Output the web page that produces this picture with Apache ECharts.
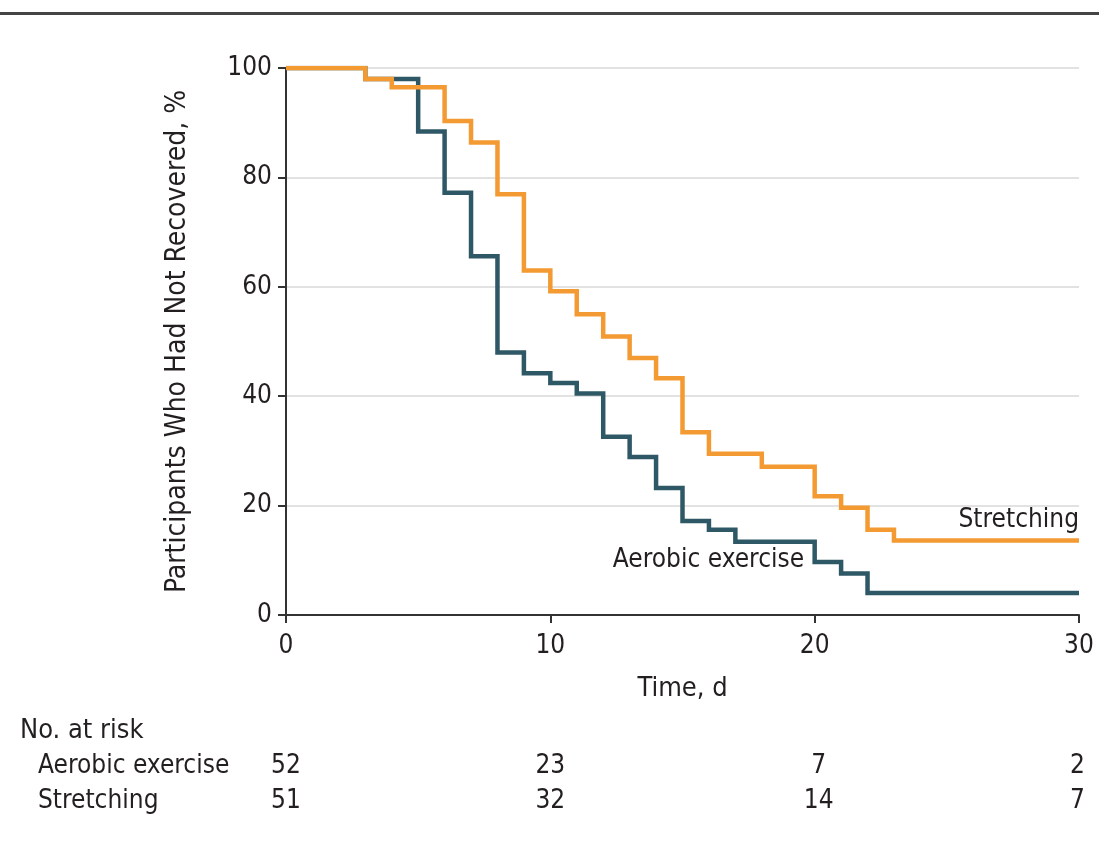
<!DOCTYPE html>
<html>
<head>
<meta charset="utf-8">
<script src="https://cdn.jsdelivr.net/npm/echarts@6/dist/echarts.min.js"></script>
<style>
html,body{margin:0;padding:0;background:#fff;}
#main{width:1099px;height:848px;}
</style>
</head>
<body>
<div id="main"></div>
<script>
// Kaplan-Meier data (time in days, % not recovered)
const aerobicTimes    = [0, 3, 5, 6, 7, 8, 9, 10, 11, 12, 13, 14, 15, 16, 17, 20, 21, 22, 30];
const aerobicValues   = [100, 98, 88.4, 77.2, 65.6, 48, 44.2, 42.4, 40.5, 32.6, 28.9, 23.2, 17.2, 15.6, 13.4, 9.7, 7.6, 4.0, 4.0];
const stretchTimes    = [0, 3, 4, 6, 7, 8, 9, 10, 11, 12, 13, 14, 15, 16, 18, 20, 21, 22, 23, 30];
const stretchValues   = [100, 98, 96.5, 90.3, 86.4, 76.9, 63, 59.2, 55, 50.9, 47, 43.3, 33.4, 29.5, 27.1, 21.7, 19.6, 15.6, 13.6, 13.6];
const xTicks = [0, 10, 20, 30];
const yTicks = [0, 20, 40, 60, 80, 100];
const riskTimes = [0, 10, 20, 30];
const riskAerobic = [52, 23, 7, 2];
const riskStretch = [51, 32, 14, 7];
const seriesNames = ['Aerobic exercise', 'Stretching'];

const FONT = '"Liberation Sans Narrow", "DejaVu Sans Condensed", "Noto Sans", sans-serif';
const TEXT = '#231f20';
const TEAL = '#2f5866';
const ORANGE = '#f39a33';

const chart = echarts.init(document.getElementById('main'), null, {renderer: 'canvas'});

function pairs(t, v) { return t.map((x, i) => [x, v[i]]); }

const option = {
  animation: false,
  backgroundColor: '#fff',
  grid: {left: 286, right: 20, top: 68, bottom: 233, containLabel: false},
  xAxis: {
    type: 'value', min: 0, max: 30, interval: 10,
    name: 'Time, d', nameLocation: 'middle', nameGap: 60,
    nameTextStyle: {fontFamily: FONT, fontSize: 27, color: TEXT},
    axisLine: {show: true, lineStyle: {color: '#333', width: 2}},
    axisTick: {show: true, length: 8, lineStyle: {color: '#333', width: 2}},
    axisLabel: {fontFamily: FONT, fontSize: 26, color: TEXT, margin: 18},
    splitLine: {show: false}
  },
  yAxis: {
    type: 'value', min: 0, max: 100, interval: 20,
    name: 'Participants Who Had Not Recovered, %', nameLocation: 'middle', nameGap: 94,
    nameTextStyle: {fontFamily: FONT, fontSize: 28, color: TEXT},
    axisLine: {show: true, lineStyle: {color: '#333', width: 2}},
    axisTick: {show: true, length: 8, lineStyle: {color: '#333', width: 2}},
    axisLabel: {fontFamily: FONT, fontSize: 26, color: TEXT, margin: 14},
    splitLine: {show: true, lineStyle: {color: '#d9d9d9', width: 1.5}}
  },
  series: [
    {
      name: seriesNames[0], type: 'line', step: 'end', showSymbol: false, symbol: 'none',
      data: pairs(aerobicTimes, aerobicValues),
      lineStyle: {color: TEAL, width: 4.5, join: 'miter', cap: 'butt'},
      z: 2
    },
    {
      name: seriesNames[1], type: 'line', step: 'end', showSymbol: false, symbol: 'none',
      data: pairs(stretchTimes, stretchValues),
      lineStyle: {color: ORANGE, width: 4.5, join: 'miter', cap: 'butt'},
      z: 3
    }
  ]
};
chart.setOption(option);

function px(x, y) { return chart.convertToPixel({gridIndex: 0}, [x, y]); }

const g = [];
// top rule
g.push({type: 'rect', shape: {x: 0, y: 12, width: 1099, height: 3}, style: {fill: '#444'}, silent: true});
// curve labels
const pS = px(30, 17.4);
g.push({type: 'text', x: pS[0], y: pS[1], style: {text: seriesNames[1], font: '26px ' + FONT, fill: TEXT, align: 'right', verticalAlign: 'middle'}});
const pA = px(19.6, 10.0);
g.push({type: 'text', x: pA[0], y: pA[1], style: {text: seriesNames[0], font: '26px ' + FONT, fill: TEXT, align: 'right', verticalAlign: 'middle'}});
// risk table
g.push({type: 'text', x: 20, y: 731, style: {text: 'No. at risk', font: '27px ' + FONT, fill: TEXT, align: 'left', verticalAlign: 'middle'}});
g.push({type: 'text', x: 38, y: 766, style: {text: seriesNames[0], font: '26px ' + FONT, fill: TEXT, align: 'left', verticalAlign: 'middle'}});
g.push({type: 'text', x: 38, y: 801, style: {text: seriesNames[1], font: '26px ' + FONT, fill: TEXT, align: 'left', verticalAlign: 'middle'}});
riskTimes.forEach((t, i) => {
  const p = px(t, 0);
  const last = i === riskTimes.length - 1;
  const align = last ? 'right' : 'center';
  const xx = last ? p[0] + 6 : p[0] + (i === 2 ? 4 : 0);
  g.push({type: 'text', x: xx, y: 766, style: {text: String(riskAerobic[i]), font: '26px ' + FONT, fill: TEXT, align: align, verticalAlign: 'middle'}});
  g.push({type: 'text', x: xx, y: 801, style: {text: String(riskStretch[i]), font: '26px ' + FONT, fill: TEXT, align: align, verticalAlign: 'middle'}});
});
chart.setOption({graphic: g});
</script>
</body>
</html>
